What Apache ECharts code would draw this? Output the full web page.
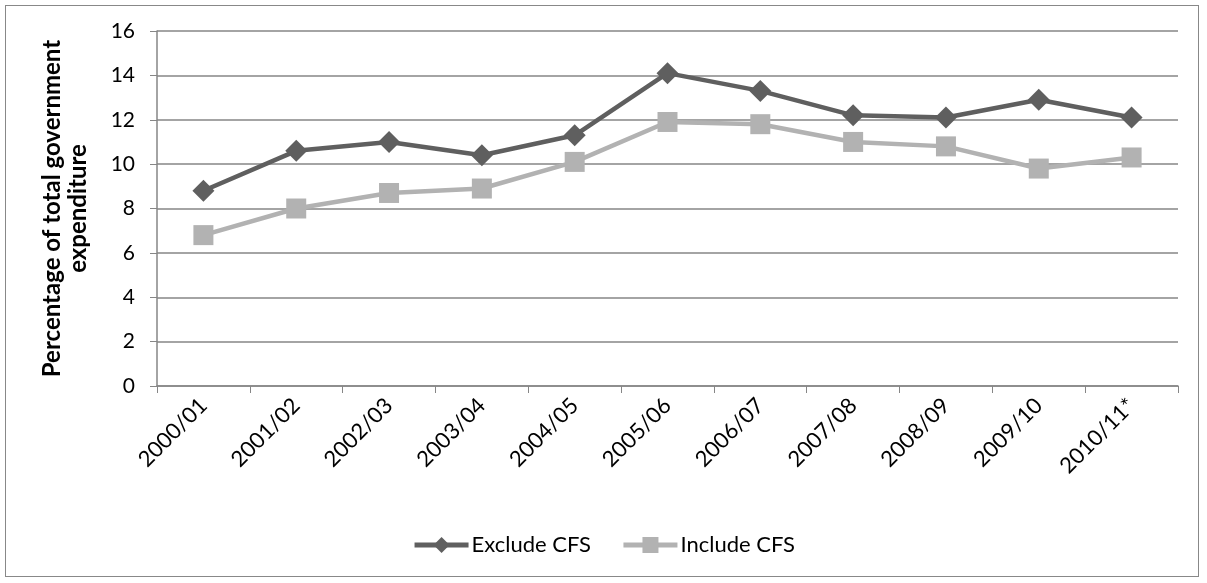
<!DOCTYPE html>
<html>
<head>
<meta charset="utf-8">
<script src="https://cdn.jsdelivr.net/npm/echarts@6/dist/echarts.min.js"></script>
<style>
  html, body { margin: 0; padding: 0; background: #fff; }
  #chart { width: 1207px; height: 583px; box-sizing: border-box; }
  .frame { position: absolute; left: 5px; top: 5px; width: 1194px; height: 572px; border: 1px solid #888; box-sizing: border-box; }
</style>
</head>
<body>
<div class="frame"></div>
<div id="chart" style="position:absolute;left:0;top:0;"></div>
<script>
const categories = ['2000/01', '2001/02', '2002/03', '2003/04', '2004/05', '2005/06', '2006/07', '2007/08', '2008/09', '2009/10', '2010/11*']
const excludeCFS = [8.8, 10.6, 11.0, 10.4, 11.3, 14.1, 13.3, 12.2, 12.1, 12.9, 12.1]
const includeCFS = [6.8, 8.0, 8.7, 8.9, 10.1, 11.9, 11.8, 11.0, 10.8, 9.8, 10.3]
const yTicks = { min: 0, max: 16, interval: 2 }

const font = 'Lato, "Open Sans", sans-serif'
const chart = echarts.init(document.getElementById('chart'))
chart.setOption({
  animation: false,
  textStyle: { fontFamily: font },
  grid: { left: 157, right: 29, top: 31, bottom: 197, containLabel: false },
  legend: {
    bottom: 22,
    left: 'center',
    itemWidth: 54,
    itemHeight: 20,
    itemGap: 30,
    textStyle: { fontSize: 22, color: '#000', fontFamily: font, padding: [0, 0, 0, -2] },
    lineStyle: { width: 5 },
    data: ['Exclude CFS', 'Include CFS']
  },
  xAxis: {
    type: 'category',
    boundaryGap: true,
    data: categories,
    axisLine: { lineStyle: { color: '#868686', width: 1.5 } },
    axisTick: { show: true, length: 7, alignWithLabel: false, lineStyle: { color: '#868686' } },
    axisLabel: { rotate: 45, fontSize: 22, color: '#000', margin: 16, fontFamily: font, interval: 0 }
  },
  yAxis: {
    type: 'value',
    min: yTicks.min,
    max: yTicks.max,
    interval: yTicks.interval,
    name: 'Percentage of total government\nexpenditure',
    nameLocation: 'middle',
    nameGap: 66,
    nameTextStyle: { fontSize: 24, fontWeight: 'bold', color: '#000', lineHeight: 26, fontFamily: font },
    axisLine: { show: true, lineStyle: { color: '#868686', width: 1.5 } },
    axisTick: { show: true, length: 7, lineStyle: { color: '#868686' } },
    axisLabel: { fontSize: 21, color: '#000', margin: 22, fontFamily: font },
    splitLine: { lineStyle: { color: '#868686', width: 1.5 } }
  },
  series: [
    {
      name: 'Exclude CFS',
      type: 'line',
      data: excludeCFS,
      symbol: 'diamond',
      symbolSize: 22,
      lineStyle: { color: '#5f5f5f', width: 4.5 },
      itemStyle: { color: '#5f5f5f' }
    },
    {
      name: 'Include CFS',
      type: 'line',
      data: includeCFS,
      symbol: 'rect',
      symbolSize: 20,
      lineStyle: { color: '#b2b2b2', width: 4.5 },
      itemStyle: { color: '#b2b2b2' }
    }
  ]
})
</script>
</body>
</html>
